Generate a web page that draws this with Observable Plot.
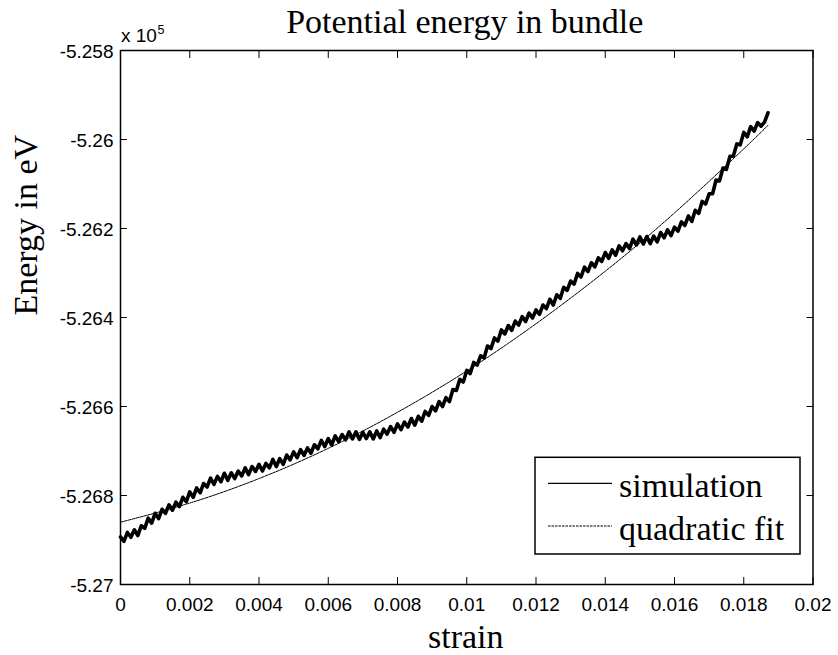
<!DOCTYPE html>
<html><head><meta charset="utf-8">
<script src="https://cdn.jsdelivr.net/npm/d3@7"></script>
<script src="https://cdn.jsdelivr.net/npm/@observablehq/plot@0.6"></script>
<style>
html,body{margin:0;padding:0;background:#fff;}
#wrap{position:relative;width:838px;height:655px;overflow:hidden;}
#legend{position:absolute;left:0;top:0;pointer-events:none;}
</style></head><body><div id="wrap"></div>
<script>
const title = "Potential energy in bundle";
const xLabel = "strain";
const yLabel = "Energy in eV";
const exponentBase = "x 10";
const exponent = "5";
const seriesNames = ["simulation", "quadratic fit"];
const xTicks = [0, 0.002, 0.004, 0.006, 0.008, 0.01, 0.012, 0.014, 0.016, 0.018, 0.02];
const yTicks = [-527000, -526800, -526600, -526400, -526200, -526000, -525800];

const simStep = 0.0001;
const simEnergy = [
  -526893,-526903,-526883,-526894,-526877,-526890,-526868,-526874,-526851,-526862,
  -526840,-526852,-526831,-526840,-526821,-526833,-526815,-526825,-526804,-526814,
  -526792,-526804,-526783,-526794,-526773,-526781,-526761,-526775,-526757,-526769,
  -526750,-526766,-526749,-526762,-526745,-526756,-526738,-526753,-526735,-526746,
  -526730,-526745,-526728,-526738,-526719,-526735,-526717,-526730,-526709,-526720,
  -526702,-526715,-526697,-526710,-526693,-526705,-526686,-526695,-526676,-526690,
  -526672,-526686,-526666,-526679,-526663,-526675,-526657,-526673,-526657,-526674,
  -526658,-526672,-526657,-526673,-526655,-526670,-526651,-526662,-526645,-526658,
  -526639,-526652,-526635,-526646,-526627,-526642,-526622,-526633,-526611,-526620,
  -526600,-526610,-526589,-526600,-526580,-526589,-526562,-526564,-526539,-526545,
  -526519,-526526,-526501,-526507,-526486,-526491,-526464,-526470,-526446,-526453,
  -526428,-526437,-526418,-526429,-526408,-526417,-526398,-526409,-526390,-526401,
  -526383,-526393,-526372,-526380,-526359,-526372,-526349,-526357,-526332,-526339,
  -526318,-526325,-526301,-526309,-526287,-526297,-526277,-526286,-526266,-526274,
  -526254,-526267,-526248,-526260,-526239,-526250,-526234,-526245,-526224,-526237,
  -526219,-526235,-526218,-526234,-526217,-526230,-526209,-526221,-526203,-526216,
  -526197,-526206,-526185,-526193,-526172,-526184,-526159,-526166,-526139,-526145,
  -526122,-526122,-526091,-526093,-526064,-526067,-526038,-526037,-526010,-526012,
  -525984,-525994,-525971,-525981,-525962,-525970,-525961,-525940
];

// quadratic fit
const fitStrain = [0, 0.002, 0.004, 0.006, 0.008, 0.01, 0.012, 0.014, 0.016, 0.018, 0.0187];
const fitEnergy = [-526860, -526817, -526762, -526694, -526613, -526520, -526414, -526296, -526165, -526021, -525968];

const sim = simEnergy.map((e, i) => ({strain: i * simStep, energy: e}));
const fit = fitStrain.map((s, i) => ({strain: s, energy: fitEnergy[i]}));
const fmt = v => String(+v.toFixed(3));
const none = () => "";
const serif = "'Liberation Serif', 'Times New Roman', serif";

const plot = Plot.plot({
  width: 838, height: 655,
  marginLeft: 120, marginRight: 25.5, marginTop: 50, marginBottom: 71,
  style: {fontFamily: "'Liberation Sans', Arial, sans-serif", fontSize: "19px", background: "white", color: "black", overflow: "visible"},
  x: {domain: [0, 0.02]},
  y: {domain: [-527000, -525800]},
  marks: [
    Plot.line(sim, {x: "strain", y: "energy", stroke: "black", strokeWidth: 3.6, strokeLinejoin: "round"}),
    Plot.line(fit, {x: "strain", y: "energy", curve: "natural", stroke: "black", strokeWidth: 1, strokeDasharray: "3,1"}),
    Plot.frame({stroke: "black", strokeWidth: 1.5}),
    // inward tick marks
    Plot.axisX(xTicks, {anchor: "bottom", tickSize: 7, dy: -7, tickFormat: none, label: null}),
    Plot.axisX(xTicks, {anchor: "top", tickSize: 7, dy: 7, tickFormat: none, label: null}),
    Plot.axisY(yTicks, {anchor: "left", tickSize: 7, dx: 7, tickFormat: none, label: null}),
    Plot.axisY(yTicks, {anchor: "right", tickSize: 7, dx: -7, tickFormat: none, label: null}),
    // tick labels
    Plot.axisX(xTicks, {anchor: "bottom", tickSize: 0, tickPadding: 12.7, tickFormat: fmt, label: null, fontSize: 19}),
    Plot.axisY(yTicks, {anchor: "left", tickSize: 0, tickPadding: 7, dy: 1.5, tickFormat: d => fmt(d / 1e5), label: null, fontSize: 19}),
    Plot.text([title], {frameAnchor: "top", lineAnchor: "bottom", dy: -18, dx: -2, fontFamily: serif, fontSize: 34}),
    Plot.text([xLabel], {frameAnchor: "bottom", lineAnchor: "bottom", dy: 63, dx: -1, fontFamily: serif, fontSize: 34}),
    Plot.text([yLabel], {frameAnchor: "left", lineAnchor: "bottom", rotate: -90, dx: -84, dy: -2, fontFamily: serif, fontSize: 34}),
    Plot.text([exponentBase], {frameAnchor: "top-left", textAnchor: "start", lineAnchor: "bottom", dx: 0.5, dy: -8.3, fontSize: 19}),
    Plot.text([exponent], {frameAnchor: "top-left", textAnchor: "start", lineAnchor: "bottom", dx: 37, dy: -16.5, fontSize: 12.5})
  ]
});
const wrap = document.getElementById("wrap");
wrap.appendChild(plot);

// legend inside the axes (bottom-right)
const lg = d3.select(wrap).append("svg").attr("id", "legend").attr("width", 838).attr("height", 655);
lg.append("rect").attr("x", 535).attr("y", 457.3).attr("width", 265).attr("height", 96.7)
  .attr("fill", "white").attr("stroke", "black").attr("stroke-width", 1.5);
const rows = [
  {name: seriesNames[0], ly: 483.3, ty: 497, dash: null, w: 1.3},
  {name: seriesNames[1], ly: 526, ty: 540, dash: "2.5,1", w: 1}
];
rows.forEach(r => {
  lg.append("line").attr("x1", 548).attr("x2", 612).attr("y1", r.ly).attr("y2", r.ly)
    .attr("stroke", "black").attr("stroke-width", r.w).attr("stroke-dasharray", r.dash);
  lg.append("text").attr("x", 619).attr("y", r.ty).attr("font-family", serif).attr("font-size", 34)
    .attr("fill", "black").text(r.name);
});
</script>
</body></html>
